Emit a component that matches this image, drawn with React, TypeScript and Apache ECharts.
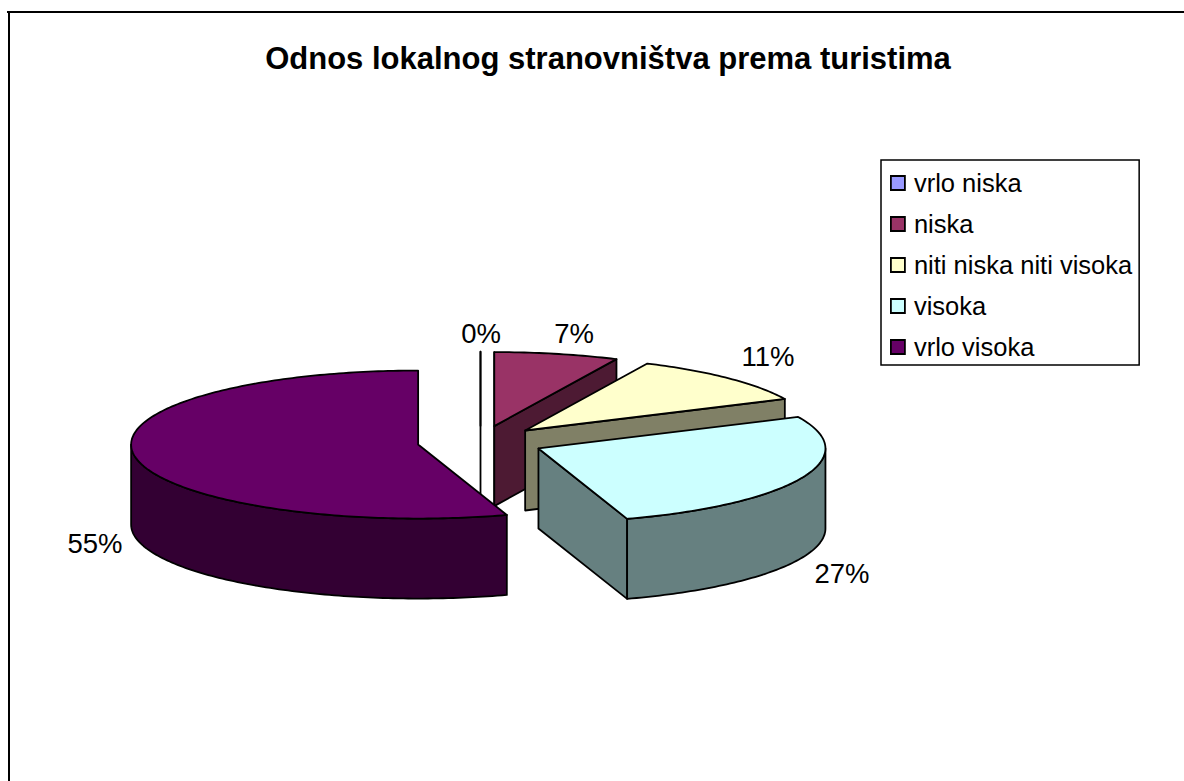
import React, { useEffect, useRef } from "react";
import * as echarts from "echarts";

const titleText = "Odnos lokalnog stranovništva prema turistima";
const categories = ["vrlo niska", "niska", "niti niska niti visoka", "visoka", "vrlo visoka"];
const shares = [0, 7, 11, 27, 55];
const topColors = ["#9999FF", "#993366", "#FFFFCC", "#CCFFFF", "#660066"];
const sideColors = ["#4D4D80", "#4D1A33", "#808066", "#668080", "#330033"];

const FONT = "'Liberation Sans', Arial, sans-serif";
const CENTER = { x: 480.5, y: 442 };
const RX = 287;
const RY = 74;
const DEPTH = 80;
const EXPLODE = 0.22;
const LABEL_POS = [
  [481, 333],
  [574, 333],
  [768, 356],
  [842, 573],
  [95, 543],
];

const rad = (d: number) => (d * Math.PI) / 180;
const total = shares.reduce((a, b) => a + b, 0);

function sliceAngles(i: number) {
  const before = shares.slice(0, i).reduce((a, b) => a + b, 0);
  return [(before / total) * 360, ((before + shares[i]) / total) * 360];
}

function renderSlice(i: number) {
  return (_params: any, _api: any) => {
    const [a0, a1] = sliceAngles(i);
    const mid = rad((a0 + a1) / 2);
    const cx = CENTER.x + RX * EXPLODE * Math.sin(mid);
    const cy = CENTER.y - RY * EXPLODE * Math.cos(mid);
    const pt = (deg: number, dy = 0) => [
      cx + RX * Math.sin(rad(deg)),
      cy - RY * Math.cos(rad(deg)) + dy,
    ];
    const line = { stroke: "#000", lineWidth: 1.8, lineJoin: "round" };
    const children: any[] = [];
    const poly = (points: number[][], fill: string) =>
      children.push({ type: "polygon", shape: { points }, style: { fill, ...line } });

    const apexBottom = [cx, cy + DEPTH];
    if (Math.sin(rad(a0)) < -1e-6 || a0 === 0) {
      poly([[cx, cy], pt(a0), pt(a0, DEPTH), apexBottom], sideColors[i]);
    }
    if (Math.sin(rad(a1)) > 1e-6) {
      poly([[cx, cy], pt(a1), pt(a1, DEPTH), apexBottom], sideColors[i]);
    }
    const w0 = Math.max(a0, 90);
    const w1 = Math.min(a1, 270);
    if (w1 > w0) {
      const upper: number[][] = [];
      const lower: number[][] = [];
      for (let d = w0; d <= w1 + 1e-6; d += 1) {
        upper.push(pt(d));
        lower.unshift(pt(d, DEPTH));
      }
      poly([...upper, ...lower], sideColors[i]);
    }
    const top: number[][] = [[cx, cy]];
    for (let d = a0; d < a1; d += 1) top.push(pt(d));
    top.push(pt(a1));
    poly(top, topColors[i]);

    children.push({
      type: "text",
      x: LABEL_POS[i][0],
      y: LABEL_POS[i][1],
      style: {
        text: `${shares[i]}%`,
        fontFamily: FONT,
        fontSize: 27.5,
        fill: "#000",
        align: "center",
        verticalAlign: "middle",
      },
    });
    return { type: "group", children };
  };
}

export default function App() {
  const ref = useRef<HTMLDivElement>(null);
  useEffect(() => {
    const chart = echarts.init(ref.current!, null, { renderer: "svg" });
    chart.setOption({
      animation: false,
      backgroundColor: "#fff",
      title: {
        text: titleText,
        left: 603,
        top: 38,
        textAlign: "center",
        textStyle: { fontFamily: FONT, fontWeight: "bold", fontSize: 31, color: "#000" },
      },
      legend: {
        show: true,
        orient: "vertical",
        left: 881,
        top: 160,
        padding: [10, 7, 5, 9],
        itemGap: 15,
        itemWidth: 14,
        itemHeight: 14,
        icon: "rect",
        borderColor: "#000",
        borderWidth: 1.5,
        backgroundColor: "#fff",
        selectedMode: false,
        data: categories,
        itemStyle: { borderColor: "#000", borderWidth: 1.8 },
        textStyle: { fontFamily: FONT, fontSize: 25.5, lineHeight: 22, color: "#000", padding: [0, 0, 0, 4] },
      },
      graphic: [
        { type: "line", shape: { x1: 7, y1: 12, x2: 1184, y2: 12 }, style: { stroke: "#000", lineWidth: 2 } },
        { type: "line", shape: { x1: 9, y1: 11, x2: 9, y2: 781 }, style: { stroke: "#000", lineWidth: 2 } },
      ],
      series: categories.map((name, i) => ({
        type: "custom",
        name,
        coordinateSystem: "none",
        itemStyle: { color: topColors[i] },
        data: [[shares[i]]],
        renderItem: renderSlice(i),
      })),
    });
    return () => chart.dispose();
  }, []);
  return <div ref={ref} style={{ position: "absolute", left: 0, top: 0, width: 1184, height: 781 }} />;
}
